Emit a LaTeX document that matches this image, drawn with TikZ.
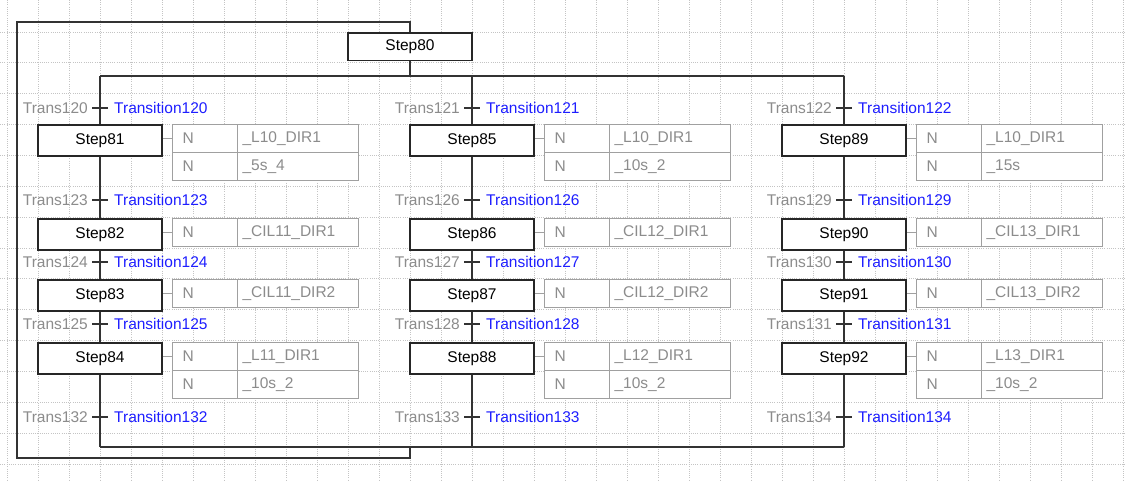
\documentclass[tikz,border=0pt]{standalone}
\usepackage{fontspec}
\setmainfont{Liberation Sans}
\definecolor{transgray}{RGB}{140,140,140}
\definecolor{condblue}{RGB}{30,30,255}
\definecolor{actgray}{RGB}{160,160,160}
\definecolor{acttext}{RGB}{140,140,140}
\definecolor{gridc}{RGB}{196,196,196}
\newcommand\actrow[4]{%
  \node[actq, anchor=north west] (#1q) at (#2,#3) {N};
  \node[actn, anchor=north west] (#1n) at ({#2+65},#3) {#4};}
\newcommand\trans[3]{% name, cx, y
  \coordinate (t#1) at (#2,#3);
  \draw[flow] ([xshift=-8pt]t#1) -- ([xshift=8pt]t#1);
  \node[tlab, anchor=east] (tl#1) at ([xshift=-12pt]t#1) {Trans#1};
  \node[tcond, anchor=west] (tc#1) at ([xshift=14pt]t#1) {Transition#1};}
\begin{document}
\begin{tikzpicture}[x=1pt,y=-1pt,
  font=\fontsize{15.5}{18}\selectfont,
  gridline/.style={draw=gridc, line width=0.8pt, dash pattern=on 1pt off 1.2pt},
  stepbox/.style={draw=black!85, line width=1.6pt, fill=white, minimum width=124pt, minimum height=31pt, inner sep=0pt, text=black},
  topbox/.style={stepbox, minimum height=27.5pt},
  flow/.style={draw=black!80, line width=1.5pt},
  actq/.style={draw=actgray, line width=1.2pt, fill=white, text=acttext, minimum height=28pt, text width=45pt, inner xsep=10pt, inner ysep=0pt, align=left},
  actn/.style={actq, text width=111pt, inner xsep=5pt},
  actline/.style={draw=actgray, line width=1.2pt},
  tlab/.style={text=transgray, inner sep=0pt},
  tcond/.style={text=condblue, inner sep=0pt}]
\useasboundingbox (0,0) rectangle (1126,480);
\fill[white] (0,0) rectangle (1126,480);
% grid
\foreach \k in {0,...,36}{\draw[gridline] ({7+31*\k},0) -- ({7+31*\k},480);}
\foreach \k in {0,...,14}{\draw[gridline] (0,{32+30.86*\k}) -- (1126,{32+30.86*\k});}

% initial step
\node[topbox, anchor=north] (s80) at (410,32) {Step80};

% column 1
\node[stepbox, anchor=north] (s81) at (100,124) {Step81};
\node[stepbox, anchor=north] (s82) at (100,218) {Step82};
\node[stepbox, anchor=north] (s83) at (100,279) {Step83};
\node[stepbox, anchor=north] (s84) at (100,342) {Step84};
\actrow{a81a}{172}{124}{\_L10\_DIR1}
\actrow{a81b}{172}{152}{\_5s\_4}
\actrow{a82a}{172}{218}{\_CIL11\_DIR1}
\actrow{a83a}{172}{279}{\_CIL11\_DIR2}
\actrow{a84a}{172}{342}{\_L11\_DIR1}
\actrow{a84b}{172}{370}{\_10s\_2}

% column 2
\node[stepbox, anchor=north] (s85) at (472,124) {Step85};
\node[stepbox, anchor=north] (s86) at (472,218) {Step86};
\node[stepbox, anchor=north] (s87) at (472,279) {Step87};
\node[stepbox, anchor=north] (s88) at (472,342) {Step88};
\actrow{a85a}{544}{124}{\_L10\_DIR1}
\actrow{a85b}{544}{152}{\_10s\_2}
\actrow{a86a}{544}{218}{\_CIL12\_DIR1}
\actrow{a87a}{544}{279}{\_CIL12\_DIR2}
\actrow{a88a}{544}{342}{\_L12\_DIR1}
\actrow{a88b}{544}{370}{\_10s\_2}

% column 3
\node[stepbox, anchor=north] (s89) at (844,124) {Step89};
\node[stepbox, anchor=north] (s90) at (844,218) {Step90};
\node[stepbox, anchor=north] (s91) at (844,279) {Step91};
\node[stepbox, anchor=north] (s92) at (844,342) {Step92};
\actrow{a89a}{916}{124}{\_L10\_DIR1}
\actrow{a89b}{916}{152}{\_15s}
\actrow{a90a}{916}{218}{\_CIL13\_DIR1}
\actrow{a91a}{916}{279}{\_CIL13\_DIR2}
\actrow{a92a}{916}{342}{\_L13\_DIR1}
\actrow{a92b}{916}{370}{\_10s\_2}

% step to action links
\foreach \s/\a in {81/81a,82/82a,83/83a,84/84a,85/85a,86/86a,87/87a,88/88a,89/89a,90/90a,91/91a,92/92a}{
  \draw[actline] (s\s.east |- a\a q.west) -- (a\a q.west);}

% coordinates of divergence / convergence / loop
\coordinate (dv0) at (410,76);
\coordinate (dv1) at (100,76);
\coordinate (dv2) at (472,76);
\coordinate (dv3) at (844,76);
\coordinate (cv0) at (410,447);
\coordinate (cv1) at (100,447);
\coordinate (cv2) at (472,447);
\coordinate (cv3) at (844,447);
\coordinate (lp1) at (410,22);
\coordinate (lp2) at (17,22);
\coordinate (lp3) at (17,458);
\coordinate (lp4) at (410,458);

\draw[flow] (s80.south) -- (dv0);
\draw[flow] (dv1) -- (dv3);
\draw[flow] (cv1) -- (cv3);
\draw[flow] (cv0) -- (lp4) -- (lp3) -- (lp2) -- (lp1) -- (s80.north);

\draw[flow] (dv1) -- (s81.north);
\draw[flow] (s81.south) -- (s82.north);
\draw[flow] (s82.south) -- (s83.north);
\draw[flow] (s83.south) -- (s84.north);
\draw[flow] (s84.south) -- (cv1);

\draw[flow] (dv2) -- (s85.north);
\draw[flow] (s85.south) -- (s86.north);
\draw[flow] (s86.south) -- (s87.north);
\draw[flow] (s87.south) -- (s88.north);
\draw[flow] (s88.south) -- (cv2);

\draw[flow] (dv3) -- (s89.north);
\draw[flow] (s89.south) -- (s90.north);
\draw[flow] (s90.south) -- (s91.north);
\draw[flow] (s91.south) -- (s92.north);
\draw[flow] (s92.south) -- (cv3);

% transitions
\trans{120}{100}{108}
\trans{123}{100}{200}
\trans{124}{100}{262}
\trans{125}{100}{324}
\trans{132}{100}{417}

\trans{121}{472}{108}
\trans{126}{472}{200}
\trans{127}{472}{262}
\trans{128}{472}{324}
\trans{133}{472}{417}

\trans{122}{844}{108}
\trans{129}{844}{200}
\trans{130}{844}{262}
\trans{131}{844}{324}
\trans{134}{844}{417}
\end{tikzpicture}
\end{document}
